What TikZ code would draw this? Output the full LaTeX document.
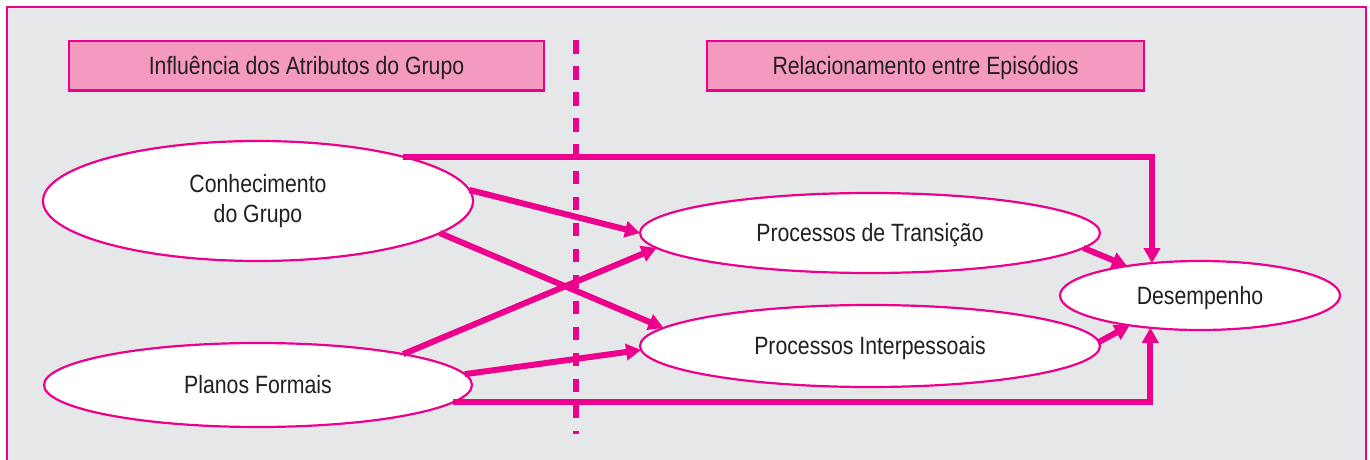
\documentclass[tikz,border=0pt]{standalone}
\usepackage{fontspec}
\setmainfont{Liberation Sans}[FakeStretch=0.85]
\usetikzlibrary{arrows.meta,shapes.geometric}
\definecolor{mag}{HTML}{EC008C}
\definecolor{hdrfill}{HTML}{F49AC1}
\definecolor{panel}{HTML}{E6E7E8}
\definecolor{ink}{HTML}{231F20}
\begin{document}
\begin{tikzpicture}[x=0.5pt,y=-0.5pt,
  oval/.style={ellipse, draw=mag, line width=1.1pt, fill=white,
    inner sep=0pt, outer sep=0pt, text=ink,
    font=\fontsize{12.5}{15}\selectfont, align=center},
  oneline/.style={text height=8.9pt, text depth=0pt},
  header/.style={rectangle, draw=mag, line width=1.2pt, fill=hdrfill,
    inner sep=0pt, outer sep=0pt, text=ink,
    font=\fontsize{12.5}{15}\selectfont, minimum height=24.7pt,
    text height=8.9pt, text depth=0pt},
  link/.style={draw=mag, line width=3pt,
    -{Triangle[length=7.5pt,width=8pt]}},
  divider/.style={draw=mag, line width=2.7pt, dash pattern=on 6.6pt off 6.4pt}]
\clip (0,0) rectangle (1370,460);
\useasboundingbox (0,0) rectangle (1370,460);
\fill[white] (0,0) rectangle (1370,460);
% panel
\draw[mag, line width=1pt, fill=panel] (7,7) rectangle (1366,490);

% column headings
\node[header, minimum width=237.5pt] (h1) at (306.5,66)
  {Influência dos Atributos do Grupo};
\node[header, minimum width=218.5pt] (h2) at (925.5,66)
  {Relacionamento entre Episódios};

% dashed separator
\draw[divider] (576,40.5) -- (576,434);

% ovals
\node[oval, minimum width=215pt, minimum height=60pt] (kg) at (258,201)
  {Conhecimento\\do Grupo};
\node[oval, oneline, minimum width=214pt, minimum height=42pt] (pf) at (258,385)
  {Planos Formais};
\node[oval, oneline, minimum width=230pt, minimum height=40pt] (pt) at (870,233)
  {Processos de Transição};
\node[oval, oneline, minimum width=230pt, minimum height=41pt] (pi) at (870,346)
  {Processos Interpessoais};
\node[oval, oneline, minimum width=140pt, minimum height=34.5pt] (ds) at (1200,295.5)
  {Desempenho};

% connectors
\draw[link] (kg.3) -- (pt.west);
\draw[link] (kg.-10) -- (pi.175.4);
\draw[link] (pf.12.5) -- (pt.184.4);
\draw[link] (pf.3.3) -- (pi.181.8);
\draw[link] (pt.-4.9) -- (ds.158);
\draw[link] (pi.1) -- (ds.203.8);
\draw[link] (kg.17.56) -| (ds.146.6);
\draw[link] (pf.-5.68) -| (ds.213.4);
\end{tikzpicture}
\end{document}
